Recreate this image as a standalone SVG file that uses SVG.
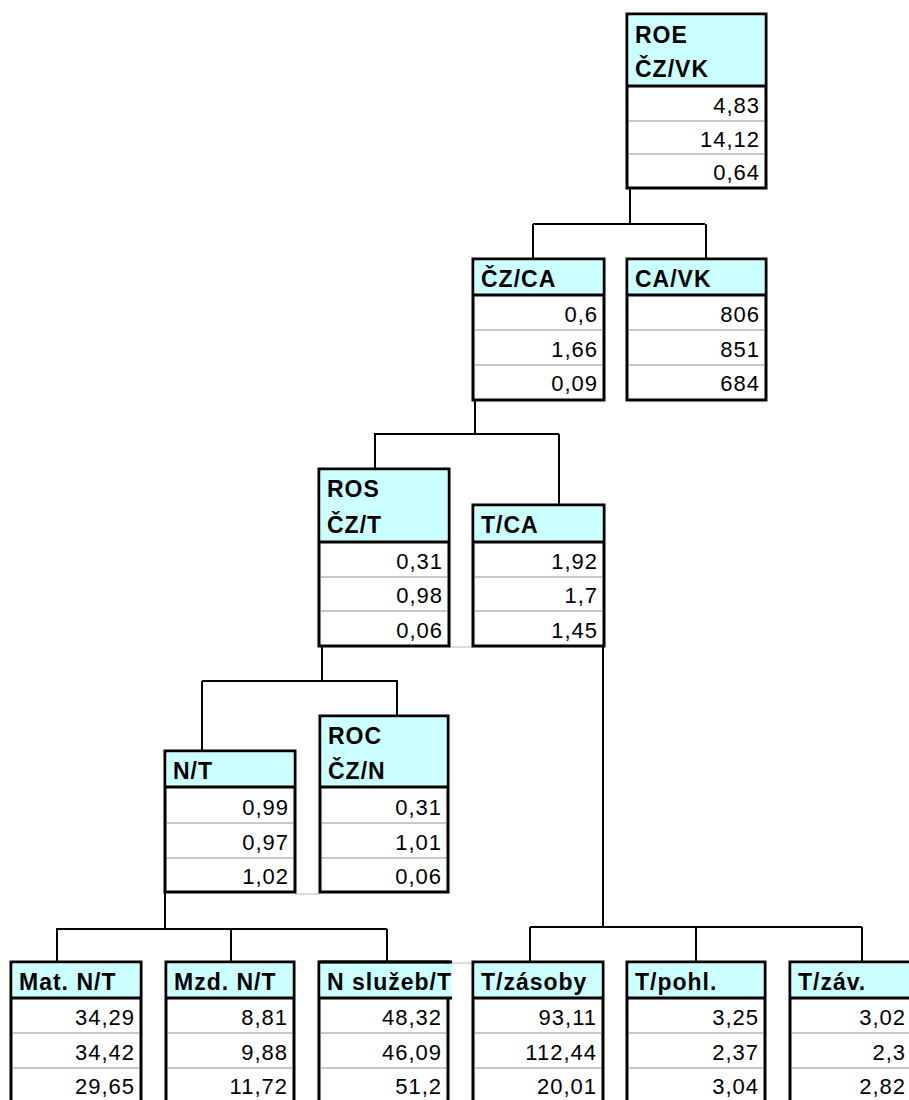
<svg xmlns="http://www.w3.org/2000/svg" width="909" height="1100" viewBox="0 0 909 1100">
  <style>
    .box { fill: #ffffff; stroke: #000000; stroke-width: 3; }
    .head { fill: #ccffff; }
    .hline { stroke: #000000; stroke-width: 3; }
    .row { stroke: #c8c8c8; stroke-width: 2; }
    .grid { stroke: #dcdcdc; stroke-width: 2; }
    .title { font-family: "Liberation Sans", Arial, sans-serif; font-weight: bold; font-size: 23px; letter-spacing: 1px; fill: #000000; }
    .val { font-family: "Liberation Sans", Arial, sans-serif; font-size: 22px; letter-spacing: 1px; fill: #000000; text-anchor: end; }
    .conn { fill: none; stroke: #000000; stroke-width: 2; }
  </style>

  <rect width="909" height="1100" fill="#ffffff"/>

  <!-- faint sheet gridlines between neighbouring boxes -->
  <g id="gridlines">
    <line class="grid" x1="449" y1="647" x2="473" y2="647"/>
    <line class="grid" x1="295" y1="894" x2="320" y2="894"/>
    <line class="grid" x1="452" y1="963" x2="473" y2="963"/>
  </g>

  <!-- connectors -->
  <g id="connectors">
    <path class="conn" d="M630 188 V224 M533 224 H705 M533 224 V259 M706 224 V259"/>
    <path class="conn" d="M475 400 V434 M374 434 H559 M375 434 V469 M559 434 V505"/>
    <path class="conn" d="M322 646 V681 M202 681 H398 M202 681 V751 M397 681 V716"/>
    <path class="conn" d="M603 646 V927 M530 927 H862 M530 927 V962 M696 927 V962 M862 927 V962"/>
    <path class="conn" d="M165 892 V929 M56 929 H387 M57 929 V962 M231 929 V962 M387 929 V962"/>
  </g>

  <!-- ROE -->
  <g id="node-roe">
    <rect class="box" x="627" y="14" width="139" height="174"/>
    <rect class="head" x="628.5" y="15.5" width="136" height="70"/>
    <line class="hline" x1="627" y1="86" x2="766" y2="86"/>
    <line class="row" x1="629" y1="121" x2="764" y2="121"/>
    <line class="row" x1="629" y1="154" x2="764" y2="154"/>
    <text class="title" x="635" y="43">ROE</text>
    <text class="title" x="635" y="77">ČZ/VK</text>
    <text class="val" x="760" y="113">4,83</text>
    <text class="val" x="760" y="147">14,12</text>
    <text class="val" x="760" y="180">0,64</text>
  </g>

  <!-- ČZ/CA -->
  <g id="node-cz-ca">
    <rect class="box" x="473" y="259" width="131" height="141"/>
    <rect class="head" x="474.5" y="260.5" width="128" height="34"/>
    <line class="hline" x1="473" y1="295" x2="604" y2="295"/>
    <line class="row" x1="475" y1="330" x2="602" y2="330"/>
    <line class="row" x1="475" y1="365" x2="602" y2="365"/>
    <text class="title" x="481" y="287">ČZ/CA</text>
    <text class="val" x="598" y="322">0,6</text>
    <text class="val" x="598" y="357">1,66</text>
    <text class="val" x="598" y="391">0,09</text>
  </g>

  <!-- CA/VK -->
  <g id="node-ca-vk">
    <rect class="box" x="627" y="259" width="139" height="141"/>
    <rect class="head" x="628.5" y="260.5" width="136" height="34"/>
    <line class="hline" x1="627" y1="295" x2="766" y2="295"/>
    <line class="row" x1="629" y1="330" x2="764" y2="330"/>
    <line class="row" x1="629" y1="365" x2="764" y2="365"/>
    <text class="title" x="635" y="287">CA/VK</text>
    <text class="val" x="760" y="322">806</text>
    <text class="val" x="760" y="357">851</text>
    <text class="val" x="760" y="391">684</text>
  </g>

  <!-- ROS -->
  <g id="node-ros">
    <rect class="box" x="319" y="469" width="130" height="177"/>
    <rect class="head" x="320.5" y="470.5" width="127" height="71"/>
    <line class="hline" x1="319" y1="542" x2="449" y2="542"/>
    <line class="row" x1="321" y1="577" x2="447" y2="577"/>
    <line class="row" x1="321" y1="611" x2="447" y2="611"/>
    <text class="title" x="327" y="497">ROS</text>
    <text class="title" x="327" y="533">ČZ/T</text>
    <text class="val" x="443" y="569">0,31</text>
    <text class="val" x="443" y="603">0,98</text>
    <text class="val" x="443" y="638">0,06</text>
  </g>

  <!-- T/CA -->
  <g id="node-t-ca">
    <rect class="box" x="473" y="505" width="131" height="141"/>
    <rect class="head" x="474.5" y="506.5" width="128" height="35"/>
    <line class="hline" x1="473" y1="542" x2="604" y2="542"/>
    <line class="row" x1="475" y1="577" x2="602" y2="577"/>
    <line class="row" x1="475" y1="611" x2="602" y2="611"/>
    <text class="title" x="481" y="533">T/CA</text>
    <text class="val" x="598" y="569">1,92</text>
    <text class="val" x="598" y="603">1,7</text>
    <text class="val" x="598" y="638">1,45</text>
  </g>

  <!-- N/T -->
  <g id="node-n-t">
    <rect class="box" x="165" y="751" width="130" height="141"/>
    <rect class="head" x="166.5" y="752.5" width="127" height="34"/>
    <line class="hline" x1="165" y1="787" x2="295" y2="787"/>
    <line class="row" x1="167" y1="823" x2="293" y2="823"/>
    <line class="row" x1="167" y1="858" x2="293" y2="858"/>
    <text class="title" x="173" y="779">N/T</text>
    <text class="val" x="289" y="815">0,99</text>
    <text class="val" x="289" y="850">0,97</text>
    <text class="val" x="289" y="884">1,02</text>
  </g>

  <!-- ROC -->
  <g id="node-roc">
    <rect class="box" x="320" y="716" width="128" height="176"/>
    <rect class="head" x="321.5" y="717.5" width="125" height="68"/>
    <line class="hline" x1="320" y1="787" x2="448" y2="787"/>
    <line class="row" x1="322" y1="823" x2="446" y2="823"/>
    <line class="row" x1="322" y1="858" x2="446" y2="858"/>
    <text class="title" x="328" y="744">ROC</text>
    <text class="title" x="328" y="779">ČZ/N</text>
    <text class="val" x="442" y="815">0,31</text>
    <text class="val" x="442" y="850">1,01</text>
    <text class="val" x="442" y="884">0,06</text>
  </g>

  <!-- Mat. N/T -->
  <g id="node-mat">
    <rect class="box" x="11" y="962" width="130" height="141"/>
    <rect class="head" x="12.5" y="963.5" width="127" height="34"/>
    <line class="hline" x1="11" y1="998" x2="141" y2="998"/>
    <line class="row" x1="13" y1="1033" x2="139" y2="1033"/>
    <line class="row" x1="13" y1="1068" x2="139" y2="1068"/>
    <text class="title" x="19" y="990">Mat. N/T</text>
    <text class="val" x="135" y="1025">34,29</text>
    <text class="val" x="135" y="1060">34,42</text>
    <text class="val" x="135" y="1094">29,65</text>
  </g>

  <!-- Mzd. N/T -->
  <g id="node-mzd">
    <rect class="box" x="166" y="962" width="128" height="141"/>
    <rect class="head" x="167.5" y="963.5" width="125" height="34"/>
    <line class="hline" x1="166" y1="998" x2="294" y2="998"/>
    <line class="row" x1="168" y1="1033" x2="292" y2="1033"/>
    <line class="row" x1="168" y1="1068" x2="292" y2="1068"/>
    <text class="title" x="174" y="990">Mzd. N/T</text>
    <text class="val" x="288" y="1025">8,81</text>
    <text class="val" x="288" y="1060">9,88</text>
    <text class="val" x="288" y="1094">11,72</text>
  </g>

  <!-- N služeb/T (title runs over the right edge) -->
  <g id="node-sluzeb">
    <rect class="box" x="319" y="962" width="129" height="141"/>
    <rect class="head" x="320.5" y="963.5" width="131" height="34"/>
    <line class="hline" x1="319" y1="962" x2="452" y2="962"/>
    <line class="hline" x1="319" y1="998" x2="452" y2="998"/>
    <line class="row" x1="321" y1="1033" x2="446" y2="1033"/>
    <line class="row" x1="321" y1="1068" x2="446" y2="1068"/>
    <text class="title" x="327" y="990">N služeb/T</text>
    <text class="val" x="442" y="1025">48,32</text>
    <text class="val" x="442" y="1060">46,09</text>
    <text class="val" x="442" y="1094">51,2</text>
  </g>

  <!-- T/zásoby -->
  <g id="node-zasoby">
    <rect class="box" x="473" y="962" width="130" height="141"/>
    <rect class="head" x="474.5" y="963.5" width="127" height="34"/>
    <line class="hline" x1="473" y1="998" x2="603" y2="998"/>
    <line class="row" x1="475" y1="1033" x2="601" y2="1033"/>
    <line class="row" x1="475" y1="1068" x2="601" y2="1068"/>
    <text class="title" x="481" y="990">T/zásoby</text>
    <text class="val" x="597" y="1025">93,11</text>
    <text class="val" x="597" y="1060">112,44</text>
    <text class="val" x="597" y="1094">20,01</text>
  </g>

  <!-- T/pohl. -->
  <g id="node-pohl">
    <rect class="box" x="627" y="962" width="138" height="141"/>
    <rect class="head" x="628.5" y="963.5" width="135" height="34"/>
    <line class="hline" x1="627" y1="998" x2="765" y2="998"/>
    <line class="row" x1="629" y1="1033" x2="763" y2="1033"/>
    <line class="row" x1="629" y1="1068" x2="763" y2="1068"/>
    <text class="title" x="635" y="990">T/pohl.</text>
    <text class="val" x="759" y="1025">3,25</text>
    <text class="val" x="759" y="1060">2,37</text>
    <text class="val" x="759" y="1094">3,04</text>
  </g>

  <!-- T/záv. (box runs past the right edge; values kept inside the canvas) -->
  <g id="node-zav">
    <rect class="box" x="790" y="962" width="131" height="141"/>
    <rect class="head" x="791.5" y="963.5" width="128" height="34"/>
    <line class="hline" x1="790" y1="998" x2="921" y2="998"/>
    <line class="row" x1="792" y1="1033" x2="919" y2="1033"/>
    <line class="row" x1="792" y1="1068" x2="919" y2="1068"/>
    <text class="title" x="798" y="990">T/záv.</text>
    <text class="val" x="906" y="1025">3,02</text>
    <text class="val" x="906" y="1060">2,3</text>
    <text class="val" x="906" y="1094">2,82</text>
  </g>
</svg>
